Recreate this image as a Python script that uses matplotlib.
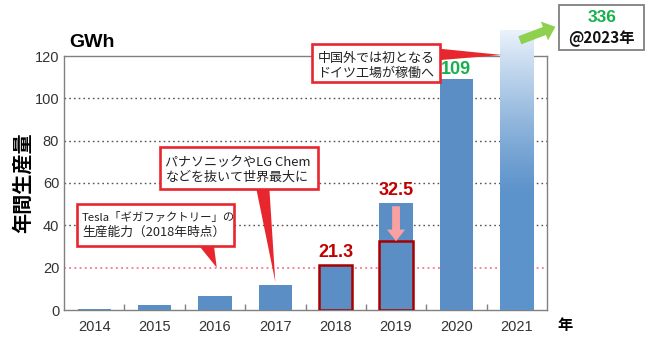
import matplotlib.pyplot as plt
import numpy as np
from matplotlib.colors import to_rgb
from matplotlib.patches import FancyArrow, FancyArrowPatch, Polygon, Rectangle


years = ["2014", "2015", "2016", "2017", "2018", "2019", "2020", "2021"]
production_gwh = [0.4, 2.4, 6.6, 11.8, 21.3, 50.5, 109, 336]
outlined_years = ["2018", "2019"]
outlined_gwh = [21.3, 32.5]
tesla_capacity_gwh = 20
forecast_gwh = 336
forecast_year = "2023"
y_ticks = [0, 20, 40, 60, 80, 100, 120]

JP = ["Noto Sans CJK JP", "DejaVu Sans"]
LATIN = ["Liberation Sans", "DejaVu Sans"]
BAR = "#5b8ec4"
DARK_RED = "#c00000"
BOX_RED = "#e8262e"
GREEN = "#16b04c"
LIGHT_GREEN = "#8fd14f"
GRID = "#555555"
SPINE = "#808080"
BAR_W = 0.55
BAR_CAP = 132  # tallest bar is faded out above this height


def callout(ax, x0, x1, y0, y1, lines, pointer, rows=(0.32, 0.68)):
    """White box with red border and a red wedge pointing at a mark.
    lines is a list of (text, fontsize), rows the row centres measured from the top."""
    ax.add_patch(Polygon(pointer, closed=True, fc=BOX_RED, ec="none", zorder=6, clip_on=False))
    ax.add_patch(Rectangle((x0, y0), x1 - x0, y1 - y0, fc="white", ec=BOX_RED, lw=1.9,
                           zorder=7, clip_on=False))
    h = y1 - y0
    for (txt, size), frac in zip(lines, rows):
        ax.text(x0 + 0.09, y1 - frac * h, txt, ha="left", va="center", fontsize=size,
                family=JP, color="#222222", zorder=8, clip_on=False)


def main() -> None:
    fig = plt.figure(figsize=(6.5, 3.39), dpi=100)
    ax = fig.add_axes([64 / 650, 29 / 339, 483 / 650, 254 / 339])
    x = np.arange(len(years))

    # solid bars for every year except the last one
    ax.bar(x[:-1], production_gwh[:-1], width=BAR_W, color=BAR, zorder=3)

    # last bar fades to white towards the top
    top = min(production_gwh[-1], BAR_CAP)
    h = np.linspace(0, top, 200)
    t = np.clip((h - 55) / (top - 55), 0, 1) ** 1.2
    c0 = np.array(to_rgb("#5d93cb"))
    c1 = np.array(to_rgb("#eaf2fb"))
    rgb = c0[None, :] * (1 - t[:, None]) + c1[None, :] * t[:, None]
    img = np.repeat(rgb[:, None, :], 2, axis=1)
    im = ax.imshow(img, extent=(x[-1] - BAR_W / 2, x[-1] + BAR_W / 2, 0, top),
                   origin="lower", aspect="auto", zorder=3, interpolation="bilinear")
    im.set_clip_on(False)

    # red outlines for 2018 and 2019
    for yr, val in zip(outlined_years, outlined_gwh):
        i = years.index(yr)
        ax.add_patch(Rectangle((i - BAR_W / 2, 0), BAR_W, val, fc="none",
                               ec="#a80000", lw=1.8, zorder=4))
        ax.annotate(f"{val}", (i, production_gwh[i]), xytext=(0, 3), textcoords="offset points",
                    ha="center", va="bottom", fontsize=13, fontweight="bold",
                    color=DARK_RED, family=LATIN, zorder=5)

    # pink arrow from 2019 bar top down to the outlined value
    i19 = years.index("2019")
    ax.add_patch(FancyArrow(i19, production_gwh[i19] - 1.5, 0,
                            -(production_gwh[i19] - outlined_gwh[1] - 1.5),
                            width=0.13, head_width=0.3, head_length=5.5,
                            length_includes_head=True, fc="#f9a0a0", ec="none", zorder=5))

    i20 = years.index("2020")
    ax.annotate(f"{production_gwh[i20]}", (i20, production_gwh[i20]), xytext=(0, 1),
                textcoords="offset points", ha="center", va="bottom", fontsize=13,
                fontweight="bold", color=GREEN, family=LATIN, zorder=9,
                annotation_clip=False)

    # grid lines
    for v in y_ticks[2:-1]:
        ax.axhline(v, color=GRID, lw=1.0, ls=(0, (1.2, 2.2)), zorder=1)
    ax.axhline(tesla_capacity_gwh, color="#f0607a", lw=1.1, ls=(0, (1.2, 2.2)), zorder=2)

    ax.set_xlim(-0.5, len(years) - 0.5)
    ax.set_ylim(0, 120)
    ax.set_yticks(y_ticks)
    ax.set_xticks(x)
    ax.set_xticklabels(years)
    ax.set_xticks(x[:-1] + 0.5, minor=True)
    ax.tick_params(axis="both", which="major", length=0, labelsize=10.5, colors="#333333")
    ax.tick_params(axis="x", which="major", pad=7)
    ax.tick_params(axis="x", which="minor", direction="in", length=4, color=SPINE, width=1)
    for lab in ax.get_xticklabels() + ax.get_yticklabels():
        lab.set_family(LATIN)
    for s in ax.spines.values():
        s.set_color(SPINE)
        s.set_linewidth(1.0)
        s.set_zorder(2)

    ax.text(-0.42, 126.5, "GWh", fontsize=14, fontweight="bold", family=LATIN,
            ha="left", va="center", clip_on=False)
    ax.text(7.8, -7, "年", fontsize=11, fontweight="bold", family=JP,
            ha="center", va="center", clip_on=False)
    fig.text(22 / 650, 0.46, "年間生産量", rotation=90, fontsize=14.5, fontweight="bold",
             family=JP, ha="center", va="center")

    # callouts
    callout(ax, -0.29, 2.32, 30.2, 50.1,
            [("Tesla「ギガファクトリー」の", 8.2), ("生産能力（2018年時点）", 9.2)],
            [(1.72, 31), (1.98, 31), (2.03, tesla_capacity_gwh)], rows=(0.31, 0.68))
    i17 = years.index("2017")
    callout(ax, 1.09, 3.71, 57.2, 77.0,
            [("パナソニックやLG Chem", 9.4), ("などを抜いて世界最大に", 9.4)],
            [(2.68, 58), (2.9, 58), (i17, production_gwh[i17] + 1.5)], rows=(0.36, 0.72))
    callout(ax, 3.61, 5.73, 107.7, 125.7,
            [("中国外では初となる", 9.4), ("ドイツ工場が稼働へ", 9.4)],
            [(5.7, 123.5), (5.7, 118.0), (6.75, 120.5)], rows=(0.38, 0.77))

    # forecast box with arrow from the fading bar
    ax.add_patch(Rectangle((7.70, 122.8), 1.41, 21.2, fc="white", ec="#808080", lw=1.3,
                           zorder=7, clip_on=False))
    ax.text(8.405, 138.3, f"{forecast_gwh}", fontsize=12.5, fontweight="bold", color=GREEN,
            family=LATIN, ha="center", va="center", zorder=8, clip_on=False)
    ax.text(8.405, 128.4, f"@{forecast_year}年", fontsize=11, fontweight="bold", color="#111111",
            family=JP, ha="center", va="center", zorder=8, clip_on=False)
    ax.add_patch(FancyArrowPatch((7.05, 127.4), (7.64, 133.8),
                                 arrowstyle="simple,head_length=0.85,head_width=1.45,tail_width=0.62",
                                 mutation_scale=10, shrinkA=0, shrinkB=0, fc=LIGHT_GREEN,
                                 ec="none", zorder=8, clip_on=False))

    fig.savefig("out.png", dpi=100)
    plt.close(fig)


if __name__ == "__main__":
    main()
